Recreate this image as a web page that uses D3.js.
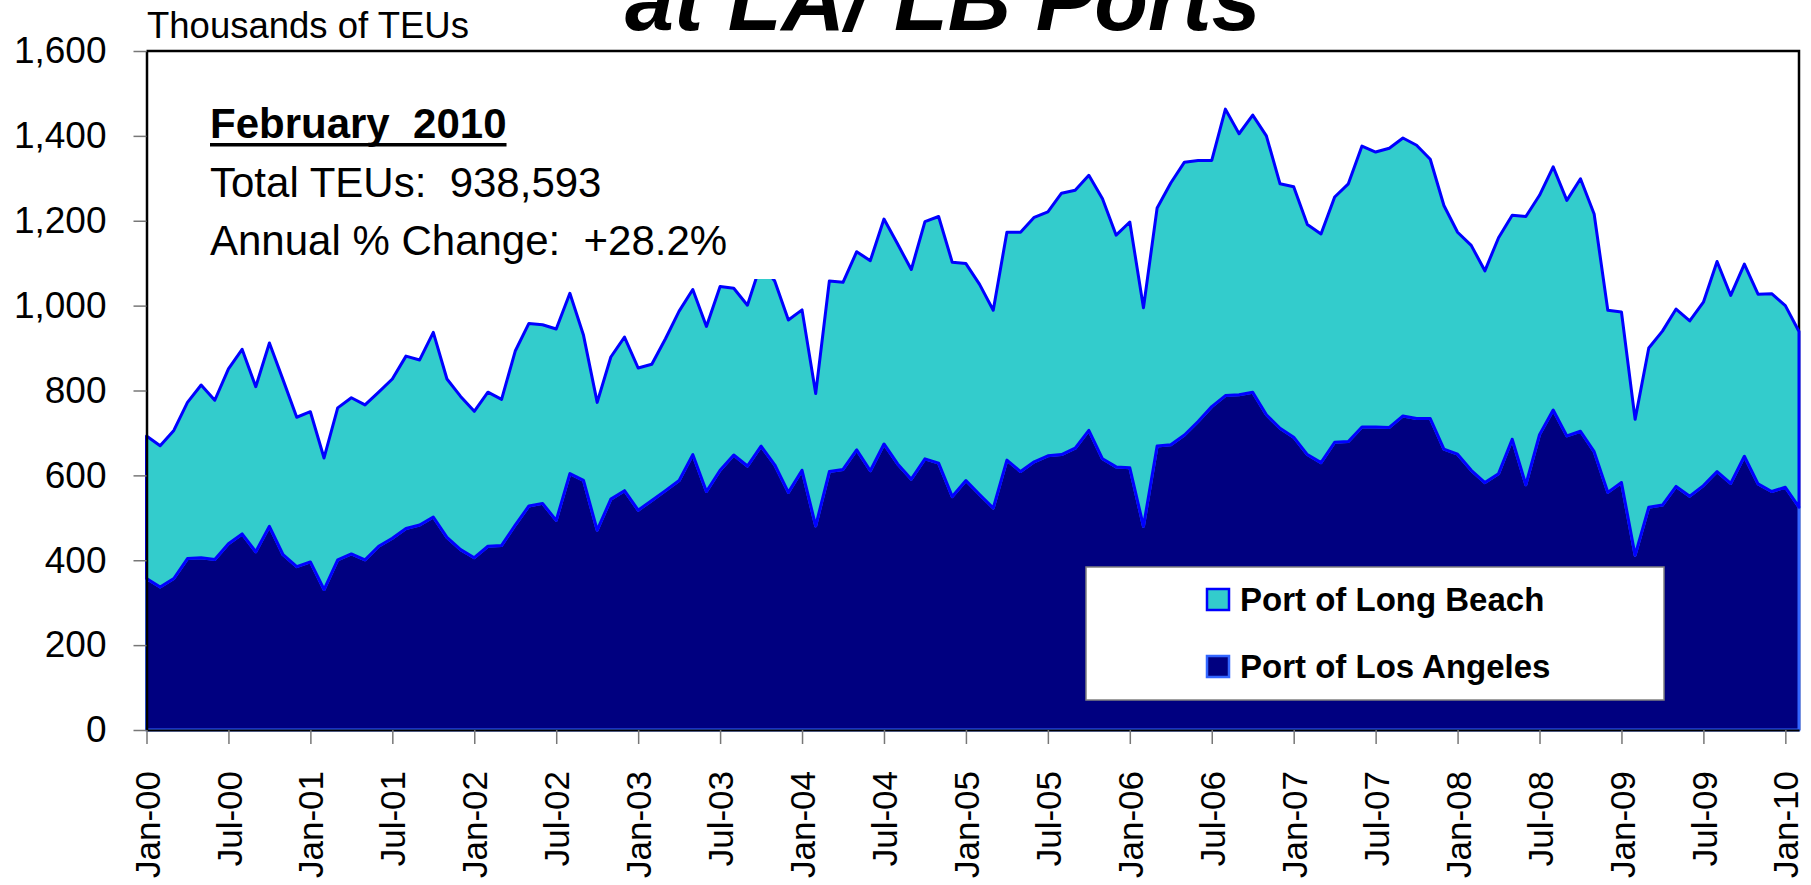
<!DOCTYPE html>
<html><head><meta charset="utf-8">
<script src="https://cdn.jsdelivr.net/npm/d3@7"></script>
<style>
body{margin:0;background:#fff;}
svg{display:block;}
text{font-family:"Liberation Sans",Arial,sans-serif;fill:#000;}
</style>
</head><body>
<svg id="chart" width="1811" height="885"></svg>
<script>
// ---- data (thousands of TEUs), monthly Jan-00 .. Feb-10 ----
const seriesNames = ["Port of Long Beach", "Port of Los Angeles"];
const tickLabels = ["Jan-00","Jul-00","Jan-01","Jul-01","Jan-02","Jul-02","Jan-03","Jul-03","Jan-04","Jul-04",
  "Jan-05","Jul-05","Jan-06","Jul-06","Jan-07","Jul-07","Jan-08","Jul-08","Jan-09","Jul-09","Jan-10"];
const yTicks = [0,200,400,600,800,1000,1200,1400,1600];
const losAngeles = [357,337,357,404,406,402,439,462,420,480,413,385,
  396,331,401,415,401,433,452,475,483,502,454,425,
  406,433,435,483,528,534,494,604,588,471,544,564,
  518,541,564,588,649,562,612,648,622,669,625,560,
  612,481,609,614,660,611,674,627,591,639,629,550,
  588,555,523,636,609,632,646,649,664,706,639,620,
  618,480,669,672,695,727,762,788,790,796,743,711,
  690,649,630,678,680,714,714,713,740,734,734,662,
  650,612,583,604,685,578,696,754,693,704,656,560,
  583,412,525,530,574,551,576,609,581,645,580,562,
  572,525];
const longBeach = [336,333,349,368,407,375,412,435,389,432,412,352,
  354,310,358,368,365,363,375,406,389,435,373,361,
  345,363,344,410,430,421,451,425,342,301,335,362,
  335,321,358,399,389,389,433,393,379,431,433,406,
  378,312,449,441,467,495,530,518,494,559,581,552,
  511,495,466,537,564,576,575,616,608,601,613,546,
  579,515,561,617,643,615,580,675,615,653,657,576,
  590,542,539,578,607,662,648,658,655,644,611,574,
  523,530,499,556,528,632,564,573,555,595,560,429,
  402,320,375,410,418,413,432,495,443,453,447,466,
  428,414];
const noteTitle = "February  2010";
const noteLines = ["Total TEUs:  938,593", "Annual % Change:  +28.2%"];
const yAxisTitle = "Thousands of TEUs";
const chartTitle = "at LA/ LB Ports";

// ---- build ----
const months = d3.timeMonths(new Date(2000,0,1), new Date(2010,2,1));
const categories = months.map(d3.timeFormat("%b-%y"));
const rows = categories.map((c,i)=>({month:c, la:losAngeles[i], lb:longBeach[i]}));

const svg = d3.select("#chart");
const X0 = 146.5, X1 = 1799, Y0 = 730, Y1 = 51;
const x = d3.scalePoint().domain(categories).range([X0, X1]);
const y = d3.scaleLinear().domain([0,1600]).range([Y0, Y1]);

// plot frame (top + right)
svg.append("path").attr("d", `M${X0},${Y1}H${X1}V${Y0}`)
  .attr("fill","none").attr("stroke","#000").attr("stroke-width",2.5);

const stack = d3.stack().keys(["la","lb"])(rows);
const area = d3.area().x(d=>x(d.data.month)).y0(d=>y(d[0])).y1(d=>y(d[1]));
const fills = {la:"#000080", lb:"#33CCCC"};
const strokes = {la:"#3366FF", lb:"#0000FF"};
svg.append("g").selectAll("path").data(stack).join("path")
  .attr("d", area)
  .attr("fill", d=>fills[d.key])
  .attr("stroke", d=>strokes[d.key])
  .attr("stroke-width", 3)
  .attr("stroke-linejoin","round");

// white box behind the note (clips the area as in the original)
svg.append("rect").attr("x",200).attr("y",92).attr("width",580).attr("height",187).attr("fill","#fff");

// y axis
const yAxis = svg.append("g").attr("transform",`translate(${X0},0)`)
  .call(d3.axisLeft(y).tickValues(yTicks).tickSize(13).tickSizeOuter(0).tickPadding(27).tickFormat(d3.format(",")));
yAxis.select(".domain").attr("stroke","#000").attr("stroke-width",2.5);
yAxis.selectAll(".tick line").attr("stroke","#777").attr("stroke-width",1.5);
yAxis.selectAll(".tick text").attr("font-size",37).attr("font-family","Liberation Sans, Arial, sans-serif").attr("fill","#000");

// x axis
const xAxis = svg.append("g").attr("transform",`translate(0,${Y0})`)
  .call(d3.axisBottom(x).tickValues(tickLabels).tickSize(14).tickSizeOuter(0));
xAxis.select(".domain").attr("stroke","#000").attr("stroke-width",2);
xAxis.selectAll(".tick line").attr("stroke","#777").attr("stroke-width",1.5);
xAxis.selectAll(".tick text")
  .attr("font-size",35).attr("font-family","Liberation Sans, Arial, sans-serif").attr("fill","#000")
  .attr("transform","rotate(-90)").attr("x",-41).attr("y",0).attr("dy","0.36em")
  .attr("text-anchor","end");

// axis title
svg.append("text").attr("x",147).attr("y",38).attr("font-size",36.5).text(yAxisTitle);

// chart title (partially cut off at the top, as in the original)
svg.append("text").attr("x",625).attr("y",30).attr("font-size",88)
  .attr("font-weight","bold").attr("font-style","italic").text(chartTitle);

// note
const nt = svg.append("text").attr("x",210).attr("y",138).attr("font-size",42)
  .attr("font-weight","bold").style("white-space","pre").text(noteTitle);
const ntw = nt.node().getComputedTextLength();
svg.append("rect").attr("x",210).attr("y",143).attr("width",ntw).attr("height",3.5).attr("fill","#000");
noteLines.forEach((t,i)=>{
  svg.append("text").attr("x",210).attr("y",197+i*58).attr("font-size",42)
    .style("white-space","pre").text(t);
});

// legend
const lg = svg.append("g");
lg.append("rect").attr("x",1086).attr("y",567).attr("width",578).attr("height",133)
  .attr("fill","#fff").attr("stroke","#808080").attr("stroke-width",1.5);
const legendKeys = ["lb","la"];
legendKeys.forEach((k,i)=>{
  lg.append("rect").attr("x",1207).attr("y",589+i*67).attr("width",22).attr("height",21)
    .attr("fill",fills[k]).attr("stroke",strokes[k]).attr("stroke-width",2.5);
  lg.append("text").attr("x",1240).attr("y",611+i*67).attr("font-size",33)
    .attr("font-weight","bold").text(seriesNames[i]);
});
</script>
</body></html>
